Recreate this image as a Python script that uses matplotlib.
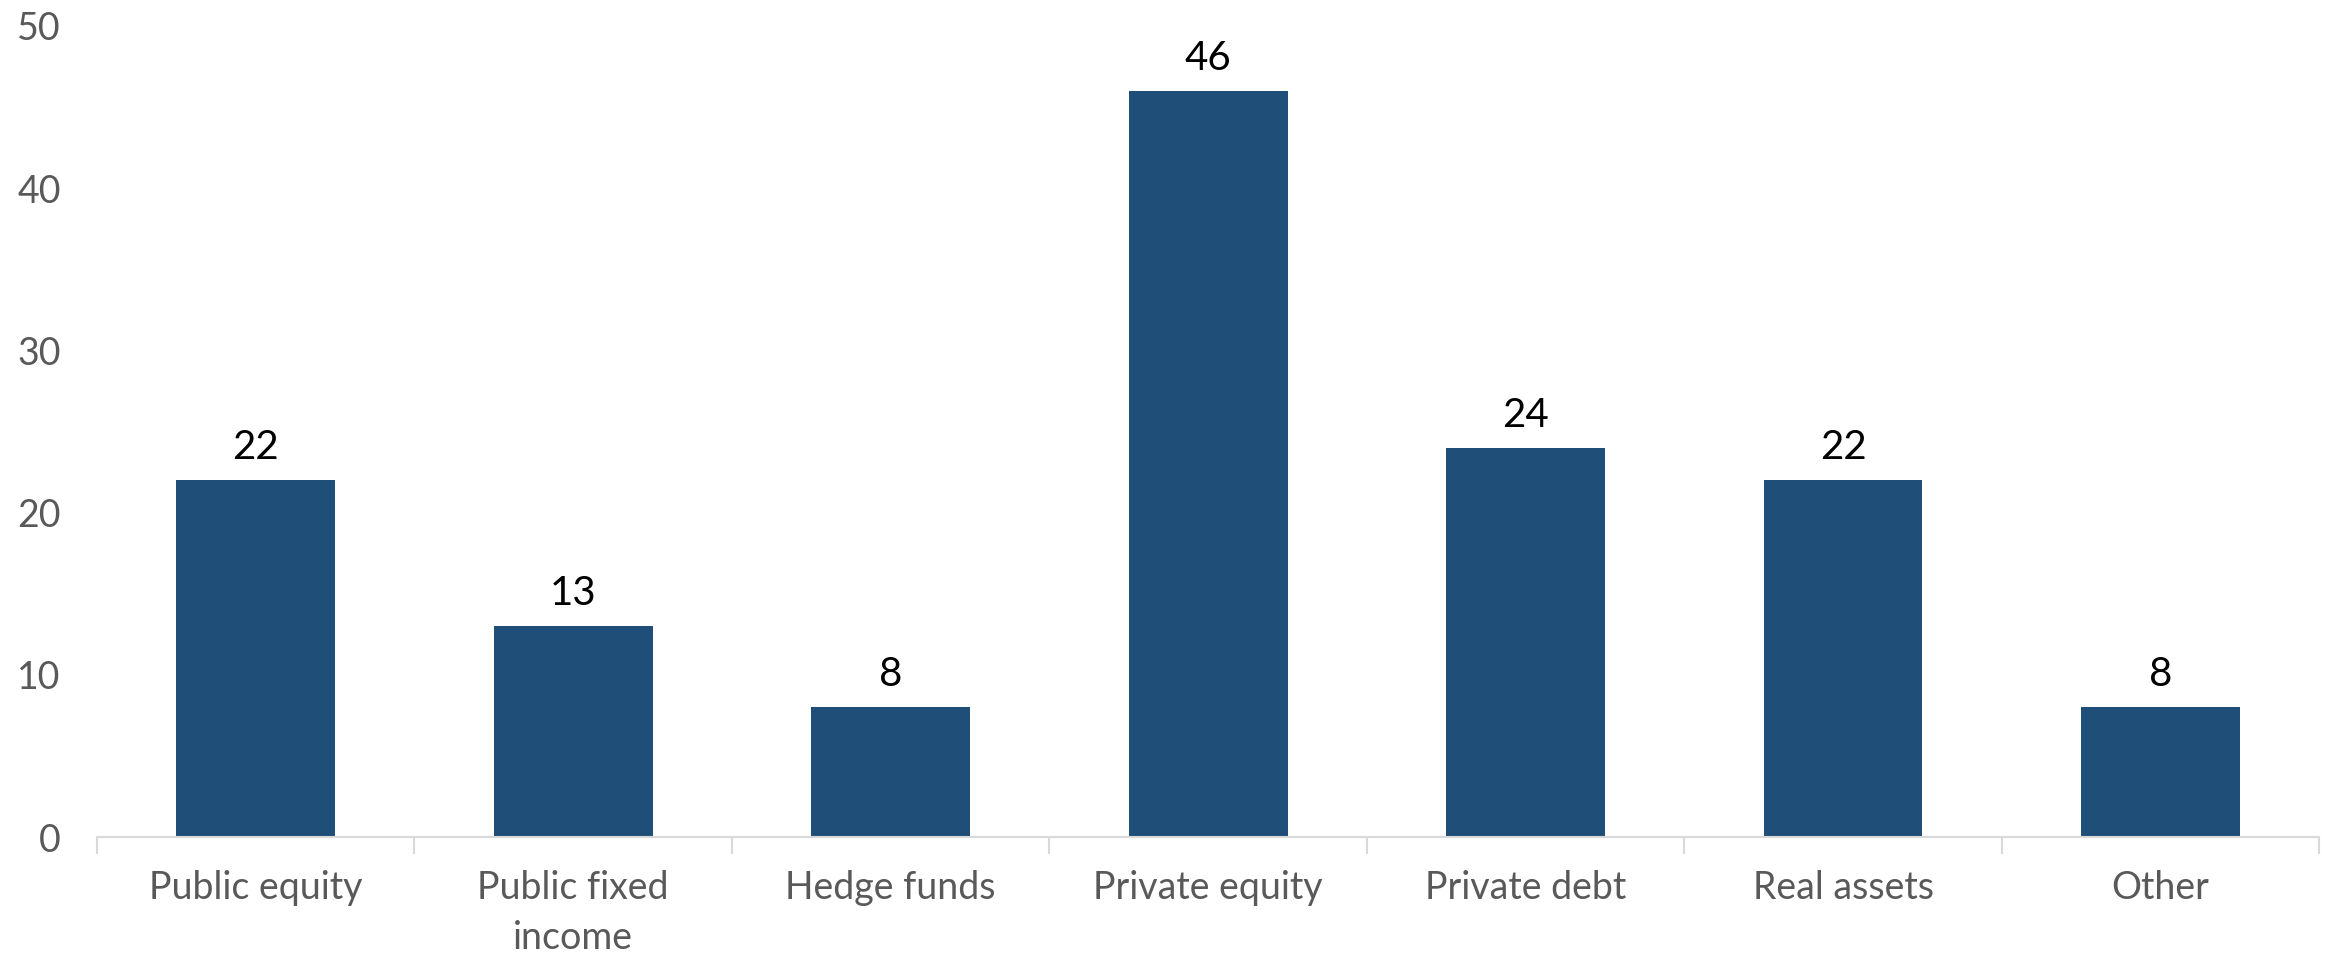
import matplotlib
matplotlib.use('Agg')
import matplotlib.pyplot as plt
import numpy as np

# Allocation categories and values
categories = ['Public equity', 'Public fixed\nincome', 'Hedge funds', 'Private equity',
              'Private debt', 'Real assets', 'Other']
values = [22, 13, 8, 46, 24, 22, 8]

plt.rcParams['font.family'] = ['Lato', 'DejaVu Sans']

fig = plt.figure(figsize=(23.31, 9.6), dpi=100)
ax = fig.add_axes([0.0416, 0.128, 0.9534, 0.845])

x = np.arange(len(categories))
bars = ax.bar(x, values, width=0.5, color='#1f4e79')

# Value labels above each bar
for rect, v in zip(bars, values):
    ax.annotate(str(v), (rect.get_x() + rect.get_width() / 2, v),
                xytext=(0, 10), textcoords='offset points',
                ha='center', va='bottom', fontsize=29, color='black')

ax.set_xlim(-0.5, len(categories) - 0.5)
ax.set_ylim(0, 50)
ax.set_yticks(range(0, 51, 10))

# Category labels centred, tick marks on the boundaries
ax.set_xticks(x)
ax.set_xticklabels(categories, fontsize=27, color='#595959', linespacing=1.45, va='top')
ax.tick_params(axis='x', which='major', length=0, pad=24)
ax.set_xticks(np.arange(-0.5, len(categories), 1), minor=True)
ax.tick_params(axis='x', which='minor', length=12, width=1.5, color='#d9d9d9')

ax.tick_params(axis='y', length=0, labelsize=27, labelcolor='#595959', pad=26)

for side in ['top', 'right', 'left']:
    ax.spines[side].set_visible(False)
ax.spines['bottom'].set_color('#d9d9d9')
ax.spines['bottom'].set_linewidth(1.5)

fig.savefig('out.png', dpi=100)
